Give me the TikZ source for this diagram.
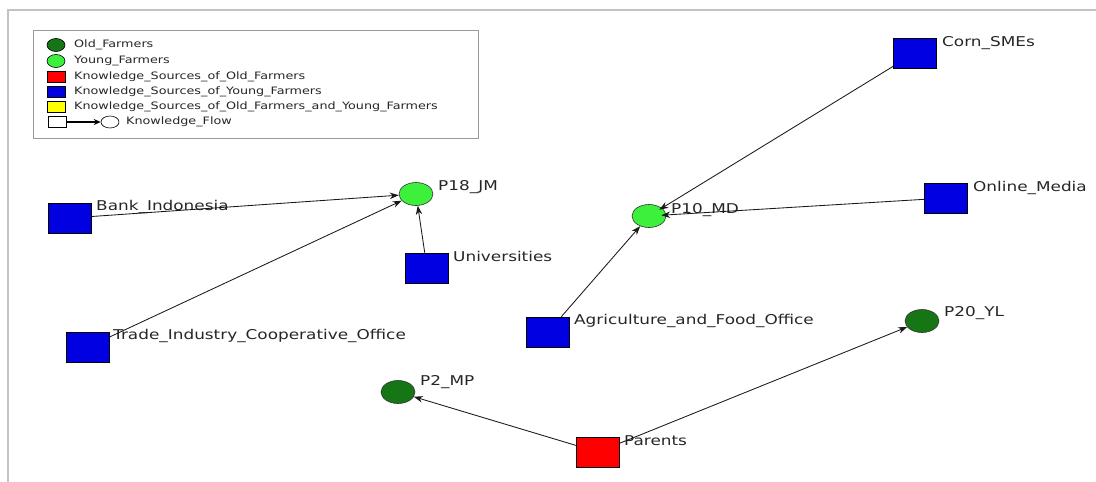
\documentclass[tikz,border=0pt]{standalone}
\usepackage{fontspec}
\setmainfont{DejaVu Sans}
\newfontfamily\widesans[FakeStretch=1.25]{DejaVu Sans}
\usetikzlibrary{shapes.geometric,arrows.meta}
\definecolor{oldgreen}{RGB}{22,118,22}
\definecolor{younggreen}{RGB}{60,240,60}
\definecolor{srcblue}{RGB}{0,0,225}
\definecolor{srcred}{RGB}{255,0,0}
\definecolor{srcyellow}{RGB}{255,255,0}
\definecolor{framegray}{RGB}{195,195,195}
\tikzset{
  src/.style={rectangle, draw=black, line width=0.6pt, minimum width=43pt, minimum height=30pt, inner sep=0pt},
  farmer/.style={ellipse, draw=black!80, line width=0.6pt, minimum width=34pt, minimum height=23pt, inner sep=0pt},
  young/.style={farmer, fill=younggreen},
  old/.style={farmer, fill=oldgreen},
  lbl/.style={anchor=west, inner sep=0pt, font=\widesans\fontsize{13.5}{15}\selectfont, text=black!85},
  flow/.style={draw=black!90, line width=0.85pt, -{Stealth[length=9pt,width=6.5pt]}},
  keytxt/.style={anchor=west, inner sep=0pt, font=\widesans\fontsize{10.2}{12}\selectfont, text=black!85},
  keybox/.style={rectangle, draw=black, line width=0.6pt, minimum width=18pt, minimum height=11pt, inner sep=0pt},
  keydot/.style={ellipse, draw=black, line width=0.6pt, minimum width=18pt, minimum height=13pt, inner sep=0pt}
}
\begin{document}
\begin{tikzpicture}[x=1pt,y=-1pt]
\useasboundingbox (0,0) rectangle (1096,482);
% outer frame (top and left edges only)
\draw[framegray, line width=1.5pt] (8,482) -- (8,10) -- (1096,10);

% legend
\node[draw=black!40, line width=0.8pt, rectangle, minimum width=445pt, minimum height=108pt, anchor=north west, inner sep=0pt] (legend) at (33,30) {};
\node[keydot, fill=oldgreen] (k1) at (56,45) {};
\node[keytxt] (k1t) at (74,45) {Old\_Farmers};
\node[keydot, fill=younggreen] (k2) at (56,61) {};
\node[keytxt] (k2t) at (74,61) {Young\_Farmers};
\node[keybox, fill=srcred] (k3) at (56,76.5) {};
\node[keytxt] (k3t) at (74,76.5) {Knowledge\_Sources\_of\_Old\_Farmers};
\node[keybox, fill=srcblue] (k4) at (56,91.5) {};
\node[keytxt] (k4t) at (74,91.5) {Knowledge\_Sources\_of\_Young\_Farmers};
\node[keybox, fill=srcyellow] (k5) at (56,107) {};
\node[keytxt] (k5t) at (74,107) {Knowledge\_Sources\_of\_Old\_Farmers\_and\_Young\_Farmers};
\node[keybox, fill=white] (k6a) at (57,122) {};
\node[keydot, fill=white, minimum height=12pt] (k6b) at (110,122) {};
\draw[line width=1.1pt, -{Stealth[length=7pt,width=6pt]}] (k6a) -- (k6b);
\node[keytxt] (k6t) at (126,122) {Knowledge\_Flow};

% farmers
\node[young] (p18) at (416,194) {};
\node[young] (p10) at (649,216) {};
\node[old] (p20) at (922,321) {};
\node[old] (p2) at (398,392) {};

% knowledge sources
\node[src, fill=srcblue] (bank) at (70,218) {};
\node[src, fill=srcblue] (trade) at (88,347) {};
\node[src, fill=srcblue] (univ) at (427,268) {};
\node[src, fill=srcblue] (agri) at (548,332) {};
\node[src, fill=srcblue] (corn) at (915,53) {};
\node[src, fill=srcblue] (online) at (946,198) {};
\node[src, fill=srcred] (parents) at (598,452) {};

% labels
\node[lbl] (lp18) at (438,187) {P18\_JM};
\node[lbl] (lp10) at (671,210) {P10\_MD};
\node[lbl] (lp20) at (944,313) {P20\_YL};
\node[lbl] (lp2) at (420,382) {P2\_MP};
\node[lbl] (lbank) at (96,207) {Bank\_Indonesia};
\node[lbl] (ltrade) at (113,336) {Trade\_Industry\_Cooperative\_Office};
\node[lbl] (luniv) at (453,256) {Universities};
\node[lbl] (lagri) at (574,321) {Agriculture\_and\_Food\_Office};
\node[lbl] (lcorn) at (942,43) {Corn\_SMEs};
\node[lbl] (lonline) at (973,188) {Online\_Media};
\node[lbl] (lparents) at (624,441) {Parents};

% knowledge flows
\draw[flow] (bank) -- (p18);
\draw[flow] (trade) -- (p18);
\draw[flow] (univ) -- (p18);
\draw[flow] (agri) -- (p10);
\draw[flow, shorten >=-3pt] (corn) -- (p10);
\draw[flow, shorten >=-5pt] (online) -- (p10);
\draw[flow] (parents) -- (p2);
\draw[flow] (parents) -- (p20);
\end{tikzpicture}
\end{document}
